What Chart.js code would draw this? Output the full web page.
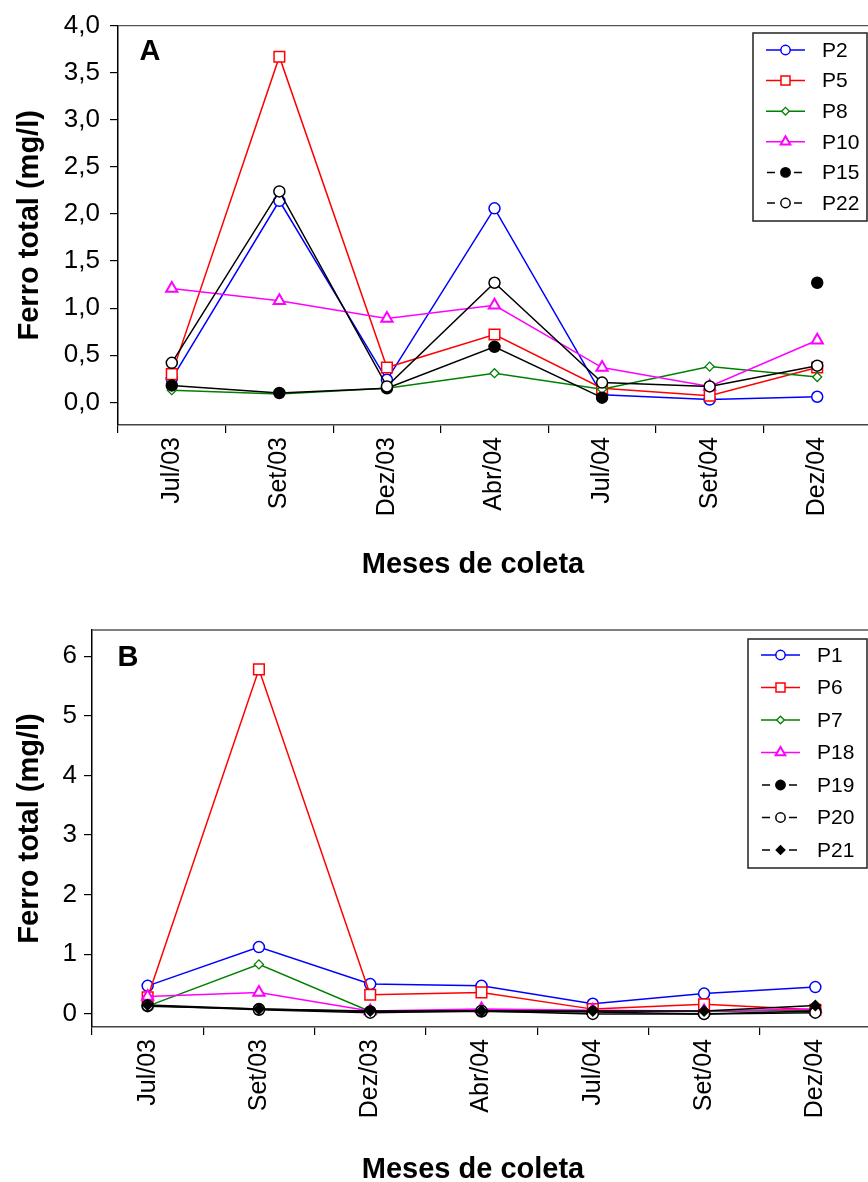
<!DOCTYPE html>
<html>
<head>
<meta charset="utf-8">
<title>Ferro total</title>
<script src="https://cdn.jsdelivr.net/npm/chart.js@4.4.1/dist/chart.umd.min.js"></script>
<style>
  html, body { margin: 0; padding: 0; background: #fff; width: 868px; height: 1182px; overflow: hidden; }
  .painel { position: absolute; left: 0; }
  #painelA { top: 0; }
  #painelB { top: 600px; }
</style>
</head>
<body>
<div class="painel" id="painelA"><canvas id="graficoA" width="880" height="600"></canvas></div>
<div class="painel" id="painelB"><canvas id="graficoB" width="880" height="582"></canvas></div>

<script>
// Meses de coleta (eixo x comum aos dois graficos)
const meses = ["Jul/03", "Set/03", "Dez/03", "Abr/04", "Jul/04", "Set/04", "Dez/04"];

// Grafico A - ferro total (mg/l)
const p2  = [0.25, 2.14, 0.24, 2.06, 0.08, 0.03, 0.06];
const p5  = [0.30, 3.67, 0.37, 0.72, 0.15, 0.07, 0.37];
const p8  = [0.13, 0.09, 0.15, 0.31, 0.14, 0.38, 0.27];
const p10 = [1.21, 1.08, 0.89, 1.03, 0.37, 0.17, 0.66];
const p15 = [0.18, 0.10, 0.15, 0.59, 0.05, null, 1.27];
const p22 = [0.42, 2.24, 0.17, 1.27, 0.21, 0.17, 0.39];
const ticksA = [0, 0.5, 1.0, 1.5, 2.0, 2.5, 3.0, 3.5, 4.0];

// Grafico B - ferro total (mg/l)
const p1  = [0.47, 1.12, 0.50, 0.47, 0.17, 0.34, 0.45];
const p6  = [0.28, 5.78, 0.32, 0.36, 0.08, 0.16, 0.07];
const p7  = [0.13, 0.83, 0.04, 0.06, 0.05, 0.04, 0.06];
const p18 = [0.29, 0.36, 0.05, 0.08, 0.06, 0.05, 0.08];
const p19 = [0.13, 0.08, 0.04, 0.04, 0.03, 0.00, 0.05];
const p20 = [0.14, 0.07, 0.02, 0.05, 0.00, 0.00, 0.02];
const p21 = [0.15, 0.08, 0.05, 0.05, 0.05, 0.05, 0.14];
const ticksB = [0, 1, 2, 3, 4, 5, 6];

const FONTE = "'Liberation Sans', Arial, Helvetica, sans-serif";

function serie(label, data, cor, marcador, raio, cheio, tracejada, bordaMarcador) {
  return {
    label,
    data,
    borderColor: cor,
    backgroundColor: cor,
    borderWidth: 1.5,
    pointStyle: marcador,
    pointRadius: raio,
    pointHoverRadius: raio,
    pointBorderColor: cor,
    pointBackgroundColor: cheio ? cor : "#fff",
    pointBorderWidth: bordaMarcador || 1.5,
    tension: 0,
    spanGaps: false,
    legendaTracejada: tracejada
  };
}

// a ultima serie fica por cima das outras
function ordenar(series) {
  series.forEach((s, i) => { s.order = series.length - i; });
  return series;
}

// caixa de legenda, letra do painel, linha superior e titulo do eixo x
const decoracao = {
  id: "decoracao",
  afterDraw(chart, args, o) {
    const ctx = chart.ctx;
    const area = chart.chartArea;
    ctx.save();

    ctx.strokeStyle = "#555";
    ctx.lineWidth = 1.3;
    ctx.beginPath();
    ctx.moveTo(area.left, area.top);
    ctx.lineTo(area.right, area.top);
    ctx.stroke();

    ctx.fillStyle = "#000";
    ctx.font = "bold 29px " + FONTE;
    ctx.textAlign = "center";
    ctx.textBaseline = "middle";
    ctx.fillText(o.letra, o.letraX, o.letraY);

    ctx.font = "bold 29px " + FONTE;
    ctx.fillText(o.tituloX, o.tituloXPos[0], o.tituloXPos[1]);

    const L = o.legenda;
    ctx.strokeStyle = "#222";
    ctx.lineWidth = 1.5;
    ctx.strokeRect(L.x, L.y, L.w, L.h);

    chart.data.datasets.forEach((ds, i) => {
      const cy = L.y + L.primeiro + i * L.passo;
      const x0 = L.x + L.linhaX;
      const x1 = x0 + L.linhaLarg;
      const xm = (x0 + x1) / 2;

      ctx.strokeStyle = ds.borderColor;
      ctx.lineWidth = ds.borderWidth;
      ctx.beginPath();
      if (ds.legendaTracejada) {
        ctx.moveTo(x0 + 1, cy); ctx.lineTo(x0 + 9, cy);
        ctx.moveTo(x1 - 11, cy); ctx.lineTo(x1 - 3, cy);
      } else {
        ctx.moveTo(x0, cy); ctx.lineTo(x1, cy);
      }
      ctx.stroke();

      ctx.fillStyle = ds.pointBackgroundColor;
      ctx.strokeStyle = ds.pointBorderColor;
      ctx.lineWidth = ds.pointBorderWidth;
      Chart.helpers.drawPoint(ctx, {
        pointStyle: ds.pointStyle,
        radius: ds.pointRadius * 0.85,
        rotation: 0,
        borderWidth: ds.pointBorderWidth
      }, xm, cy);

      ctx.fillStyle = "#000";
      ctx.font = "21px " + FONTE;
      ctx.textAlign = "left";
      ctx.textBaseline = "middle";
      ctx.fillText(ds.label, L.x + L.textoX, cy + 1);
    });
    ctx.restore();
  }
};

function eixoY(min, max, valores, fmt, largura, pad) {
  return {
    type: "linear",
    min, max,
    afterBuildTicks: s => { s.ticks = valores.map(v => ({ value: v })); },
    afterFit: s => { s.width = largura; },
    ticks: {
      callback: fmt,
      color: "#000",
      padding: pad,
      font: { family: FONTE, size: 26 }
    },
    grid: { drawOnChartArea: false, drawTicks: true, tickLength: 8, color: "#000", lineWidth: 1.2 },
    border: { color: "#000", width: 1.5 },
    title: {
      display: true,
      text: "Ferro total (mg/l)",
      color: "#000",
      font: { family: FONTE, size: 29, weight: "bold", lineHeight: 1 },
      padding: { top: 15, bottom: 0 }
    }
  };
}

function eixoX(altura) {
  return {
    type: "category",
    labels: meses,
    offset: true,
    afterFit: s => { s.height = altura; },
    ticks: {
      minRotation: 90,
      maxRotation: 90,
      autoSkip: false,
      color: "#000",
      padding: 4,
      font: { family: FONTE, size: 25 }
    },
    grid: { offset: true, drawOnChartArea: false, tickLength: 8, color: "#000", lineWidth: 1.2 },
    border: { color: "#444", width: 1.5 }
  };
}

function montar(id, series, y, x, padTop, deco) {
  return new Chart(document.getElementById(id), {
    type: "line",
    data: { labels: meses, datasets: ordenar(series) },
    options: {
      responsive: false,
      animation: false,
      layout: { padding: { top: padTop, right: 3, left: 0, bottom: 0 } },
      plugins: {
        legend: { display: false },
        tooltip: { enabled: false },
        decoracao: deco
      },
      scales: { x, y }
    },
    plugins: [decoracao]
  });
}

montar("graficoA", [
  serie("P2", p2, "#0000ff", "circle", 5.5, false, false),
  serie("P5", p5, "#ff0000", "rect", 7.5, false, false),
  serie("P8", p8, "#008000", "rectRot", 4.5, false, false, 1.3),
  serie("P10", p10, "#ff00ff", "triangle", 6.5, false, false, 2),
  serie("P15", p15, "#000000", "circle", 5.5, true, true),
  serie("P22", p22, "#000000", "circle", 5.5, false, true)
],
  eixoY(-0.24, 4.0, ticksA, v => v.toFixed(1).replace(".", ","), 118, 10),
  eixoX(175), 18,
  {
    letra: "A", letraX: 150, letraY: 52,
    tituloX: "Meses de coleta", tituloXPos: [473, 565],
    legenda: { x: 753, y: 33, w: 114, h: 188, primeiro: 17, passo: 30.6, linhaX: 13, linhaLarg: 39, textoX: 69 }
  });

montar("graficoB", [
  serie("P1", p1, "#0000ff", "circle", 5.5, false, false),
  serie("P6", p6, "#ff0000", "rect", 7.5, false, false),
  serie("P7", p7, "#008000", "rectRot", 4.5, false, false, 1.3),
  serie("P18", p18, "#ff00ff", "triangle", 6.5, false, false, 2),
  serie("P19", p19, "#000000", "circle", 5.5, true, true),
  serie("P20", p20, "#000000", "circle", 5.5, false, true),
  serie("P21", p21, "#000000", "rectRot", 5, true, true)
],
  eixoY(-0.22, 6.44, ticksB, v => String(v), 92, 7),
  eixoX(155), 30,
  {
    letra: "B", letraX: 128, letraY: 58,
    tituloX: "Meses de coleta", tituloXPos: [473, 570],
    legenda: { x: 748, y: 39, w: 119, h: 229, primeiro: 16, passo: 32.5, linhaX: 13, linhaLarg: 39, textoX: 69 }
  });
</script>
</body>
</html>
